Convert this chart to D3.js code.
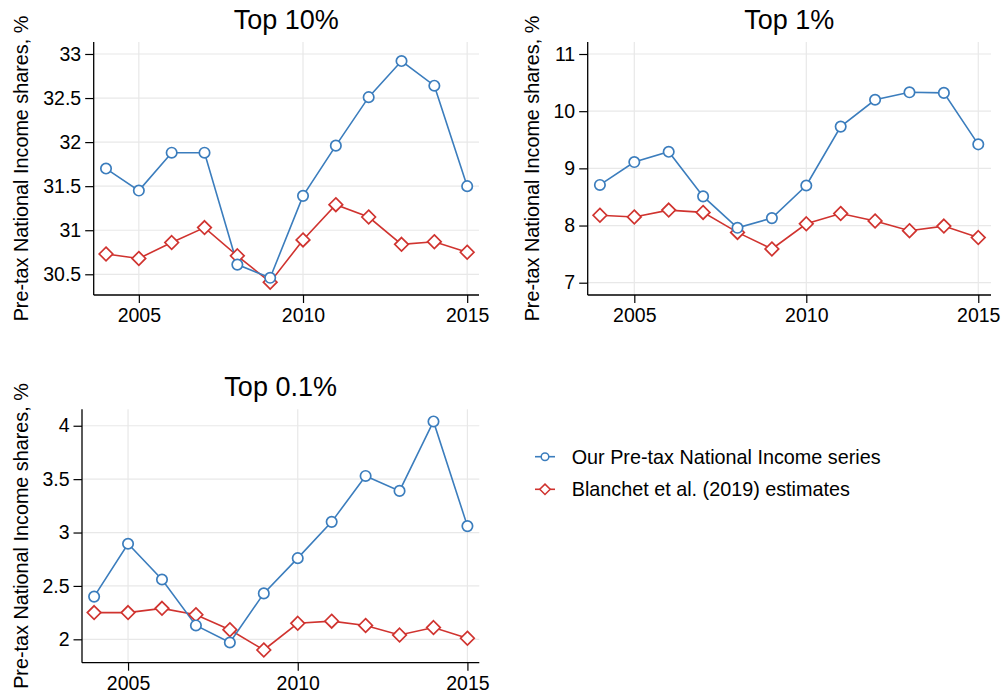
<!DOCTYPE html>
<html>
<head>
<meta charset="utf-8">
<script src="https://cdn.jsdelivr.net/npm/d3@7"></script>
<style>
  html, body { margin: 0; padding: 0; background: #fff; }
  svg { display: block; }
  text { font-family: "Liberation Sans", Arial, sans-serif; fill: #000; }
</style>
</head>
<body>
<svg id="chart" width="1003" height="695"></svg>
<script>
// ---- Data ----
const years = [2004, 2005, 2006, 2007, 2008, 2009, 2010, 2011, 2012, 2013, 2014, 2015];

const top10Ours     = [31.70, 31.45, 31.88, 31.88, 30.61, 30.46, 31.39, 31.96, 32.51, 32.92, 32.64, 31.50];
const top10Blanchet = [30.73, 30.68, 30.86, 31.03, 30.71, 30.41, 30.89, 31.29, 31.15, 30.84, 30.87, 30.75];

const top1Ours      = [8.71, 9.11, 9.29, 8.51, 7.96, 8.13, 8.70, 9.73, 10.20, 10.33, 10.32, 9.42];
const top1Blanchet  = [8.18, 8.15, 8.27, 8.23, 7.88, 7.59, 8.03, 8.21, 8.08, 7.91, 7.99, 7.79];

const top01Ours     = [2.40, 2.895, 2.56, 2.13, 1.97, 2.43, 2.76, 3.10, 3.53, 3.39, 4.04, 3.06];
const top01Blanchet = [2.25, 2.25, 2.29, 2.23, 2.09, 1.90, 2.15, 2.17, 2.13, 2.04, 2.11, 2.01];

const xTicks = [2005, 2010, 2015];
const top10Ticks = [30.5, 31, 31.5, 32, 32.5, 33];
const top1Ticks  = [7, 8, 9, 10, 11];
const top01Ticks = [2, 2.5, 3, 3.5, 4];

const panelTitles = ["Top 10%", "Top 1%", "Top 0.1%"];
const yLabel = "Pre-tax National Income shares, %";
const seriesNames = ["Our Pre-tax National Income series", "Blanchet et al. (2019) estimates"];

// ---- Styling / layout ----
const BLUE = "#3b7dbd";
const RED = "#d0332f";
const GRID = "#e8e8e8";

const svg = d3.select("#chart");

const panels = [
  { title: panelTitles[0], ours: top10Ours, blan: top10Blanchet, ticks: top10Ticks,
    box: { l: 93.7, r: 479, t: 42, b: 295 }, xd: [2003.625, 2015.36], yd: [30.265, 33.136], labelX: 27.5 },
  { title: panelTitles[1], ours: top1Ours, blan: top1Blanchet, ticks: top1Ticks,
    box: { l: 587.7, r: 991, t: 42, b: 295 }, xd: [2003.645, 2015.37], yd: [6.785, 11.21], labelX: 539 },
  { title: panelTitles[2], ours: top01Ours, blan: top01Blanchet, ticks: top01Ticks,
    box: { l: 82, r: 479.3, t: 409.3, b: 662.7 }, xd: [2003.643, 2015.35], yd: [1.781, 4.154], labelX: 27.5 }
];

const diamond = (cx, cy, r) => `M${cx},${cy - r}L${cx + r},${cy}L${cx},${cy + r}L${cx - r},${cy}Z`;

panels.forEach(p => {
  const x = d3.scaleLinear().domain(p.xd).range([p.box.l, p.box.r]);
  const y = d3.scaleLinear().domain(p.yd).range([p.box.b, p.box.t]);
  const g = svg.append("g");

  // grid
  g.selectAll(".hg").data(p.ticks).join("line")
    .attr("x1", p.box.l).attr("x2", p.box.r)
    .attr("y1", d => y(d)).attr("y2", d => y(d))
    .attr("stroke", GRID).attr("stroke-width", 1.2);
  g.selectAll(".vg").data(xTicks).join("line")
    .attr("x1", d => x(d)).attr("x2", d => x(d))
    .attr("y1", p.box.t).attr("y2", p.box.b)
    .attr("stroke", GRID).attr("stroke-width", 1.2);

  // axes
  const yAxis = d3.axisLeft(y).tickValues(p.ticks).tickSize(8.5).tickPadding(4)
    .tickFormat(d => String(d));
  const ya = g.append("g").attr("transform", `translate(${p.box.l},0)`).call(yAxis);
  ya.select(".domain").attr("d", `M0,${p.box.t}V${p.box.b}`).attr("stroke", "#000").attr("stroke-width", 1.3);
  ya.selectAll(".tick line").attr("stroke", "#000").attr("stroke-width", 1.2);
  ya.selectAll(".tick text").style("font-size", "19.5px").style("font-family", '"Liberation Sans", Arial, sans-serif').attr("fill", "#000");

  const xAxis = d3.axisBottom(x).tickValues(xTicks).tickSize(8).tickPadding(5)
    .tickFormat(d3.format("d"));
  const xa = g.append("g").attr("transform", `translate(0,${p.box.b})`).call(xAxis);
  xa.select(".domain").attr("d", `M${p.box.l},0H${p.box.r}`).attr("stroke", "#000").attr("stroke-width", 1.3);
  xa.selectAll(".tick line").attr("stroke", "#000").attr("stroke-width", 1.2);
  xa.selectAll(".tick text").style("font-size", "19.5px").style("font-family", '"Liberation Sans", Arial, sans-serif').attr("fill", "#000");

  // title
  g.append("text")
    .attr("x", (p.box.l + p.box.r) / 2).attr("y", p.box.t - 13)
    .attr("text-anchor", "middle").style("font-size", "27px")
    .text(p.title);

  // y label
  g.append("text")
    .attr("transform", `translate(${p.labelX},${(p.box.t + p.box.b) / 2}) rotate(-90)`)
    .attr("text-anchor", "middle").style("font-size", "19.8px")
    .text(yLabel);

  const line = d3.line().x((d, i) => x(years[i])).y(d => y(d));

  // Blanchet (red) then ours (blue) on top
  g.append("path").datum(p.blan).attr("d", line)
    .attr("fill", "none").attr("stroke", RED).attr("stroke-width", 1.6);
  g.append("path").datum(p.ours).attr("d", line)
    .attr("fill", "none").attr("stroke", BLUE).attr("stroke-width", 1.6);

  g.selectAll(".dm").data(p.blan).join("path")
    .attr("d", (d, i) => diamond(x(years[i]), y(d), 6.8))
    .attr("fill", "#fff").attr("stroke", RED).attr("stroke-width", 1.7);
  g.selectAll(".ci").data(p.ours).join("circle")
    .attr("cx", (d, i) => x(years[i])).attr("cy", d => y(d)).attr("r", 5.2)
    .attr("fill", "#fff").attr("stroke", BLUE).attr("stroke-width", 1.7);
});

// ---- Legend ----
const legend = svg.append("g");
const legendItems = [
  { name: seriesNames[0], color: BLUE, shape: "circle", y: 456.7 },
  { name: seriesNames[1], color: RED, shape: "diamond", y: 489.3 }
];
legendItems.forEach(it => {
  legend.append("line").attr("x1", 535).attr("x2", 555).attr("y1", it.y).attr("y2", it.y)
    .attr("stroke", it.color).attr("stroke-width", 1.6);
  if (it.shape === "circle") {
    legend.append("circle").attr("cx", 545).attr("cy", it.y).attr("r", 3.8)
      .attr("fill", "#fff").attr("stroke", it.color).attr("stroke-width", 1.5);
  } else {
    legend.append("path").attr("d", diamond(545, it.y, 5.2))
      .attr("fill", "#fff").attr("stroke", it.color).attr("stroke-width", 1.5);
  }
  legend.append("text").attr("x", 571.7).attr("y", it.y + 7)
    .style("font-size", "19.8px").text(it.name);
});
</script>
</body>
</html>
